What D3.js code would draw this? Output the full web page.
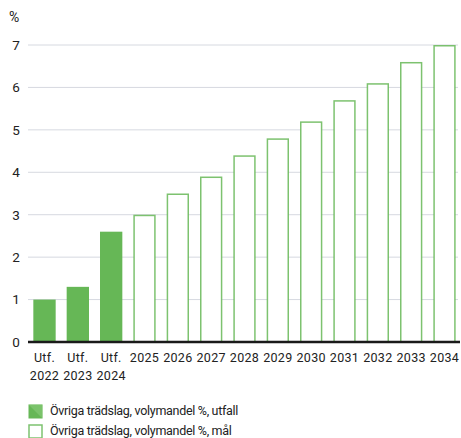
<!DOCTYPE html>
<html>
<head>
<meta charset="utf-8">
<script src="https://cdn.jsdelivr.net/npm/d3@7"></script>
<style>
  body { margin: 0; background: #fff; }
  text { font-family: Roboto, "DejaVu Sans", sans-serif; fill: #222; }
</style>
</head>
<body>
<div id="chart"></div>
<script>
// data
const categories = ["Utf.\n2022", "Utf.\n2023", "Utf.\n2024", "2025", "2026", "2027", "2028", "2029", "2030", "2031", "2032", "2033", "2034"];
const values = [1.0, 1.3, 2.6, 3.0, 3.5, 3.9, 4.4, 4.8, 5.2, 5.7, 6.1, 6.6, 7.0];
const isOutcome = [true, true, true, false, false, false, false, false, false, false, false, false, false];
const yTicks = [0, 1, 2, 3, 4, 5, 6, 7];
const legendLabels = ["Övriga trädslag, volymandel %, utfall", "Övriga trädslag, volymandel %, mål"];

const W = 461, H = 438;
const margin = {top: 45, right: 0, bottom: 96, left: 28};
const green = "#66b756";

const svg = d3.select("#chart").append("svg")
    .attr("width", W)
    .attr("height", H);

const x = d3.scaleBand()
    .domain(categories)
    .range([margin.left, W - margin.right])
    .paddingInner(0.33)
    .paddingOuter(0.16);

const y = d3.scaleLinear()
    .domain([0, 7])
    .range([H - margin.bottom, margin.top]);

// gridlines
svg.append("g")
    .selectAll("line")
    .data(yTicks.filter(d => d > 0))
    .join("line")
    .attr("x1", margin.left)
    .attr("x2", W - 3)
    .attr("y1", d => y(d))
    .attr("y2", d => y(d))
    .attr("stroke", "#d6d9e0")
    .attr("stroke-width", 1);

// y labels
svg.append("g")
    .selectAll("text")
    .data(yTicks)
    .join("text")
    .attr("x", 16)
    .attr("y", d => y(d))
    .attr("dy", "0.36em")
    .attr("text-anchor", "middle")
    .attr("font-size", 13.5)
    .text(d => d);

svg.append("text")
    .attr("x", 9)
    .attr("y", 22)
    .attr("font-size", 14)
    .text("%");

// bars
svg.append("g")
    .selectAll("rect")
    .data(categories.map((c, i) => ({c, v: values[i], o: isOutcome[i]})))
    .join("rect")
    .attr("x", d => d.o ? x(d.c) : x(d.c) + 0.75)
    .attr("y", d => d.o ? y(d.v) : y(d.v) + 0.75)
    .attr("width", d => d.o ? x.bandwidth() : x.bandwidth() - 1.5)
    .attr("height", d => d.o ? y(0) - y(d.v) : y(0) - y(d.v) - 0.75)
    .attr("fill", d => d.o ? green : "#fff")
    .attr("stroke", d => d.o ? "none" : green)
    .attr("stroke-opacity", 0.85)
    .attr("stroke-width", 1.5);

// x axis line
svg.append("line")
    .attr("x1", margin.left)
    .attr("x2", W - 1)
    .attr("y1", y(0))
    .attr("y2", y(0))
    .attr("stroke", "#1a1a1a")
    .attr("stroke-width", 2.5);

// x labels
const xl = svg.append("g")
    .selectAll("text")
    .data(categories)
    .join("text")
    .attr("x", d => x(d) + x.bandwidth() / 2)
    .attr("y", y(0) + 20)
    .attr("text-anchor", "middle")
    .attr("font-size", 12.5)
    .style("letter-spacing", "0.3px");
xl.selectAll("tspan")
    .data(d => d.split("\n"))
    .join("tspan")
    .attr("x", function() { return this.parentNode.getAttribute("x"); })
    .attr("dy", (d, i) => i === 0 ? 0 : 18)
    .text(d => d);

// legend
const lg = svg.append("g");
lg.append("rect")
    .attr("x", 28.5).attr("y", 404.5).attr("width", 14).attr("height", 14)
    .attr("fill", green);
lg.append("path")
    .attr("d", "M28.5,404.5 L42.5,418.5 L42.5,404.5 Z")
    .attr("fill", "#8fcf80").attr("opacity", 0.5);
lg.append("rect")
    .attr("x", 29).attr("y", 425).attr("width", 13).attr("height", 13)
    .attr("fill", "#fff").attr("stroke", green).attr("stroke-opacity", 0.85).attr("stroke-width", 1.5);

lg.selectAll("text")
    .data(legendLabels)
    .join("text")
    .attr("x", 50)
    .attr("y", (d, i) => 415 + i * 20)
    .attr("font-size", 12.5)
    .style("letter-spacing", "-0.3px")
    .text(d => d);
</script>
</body>
</html>
